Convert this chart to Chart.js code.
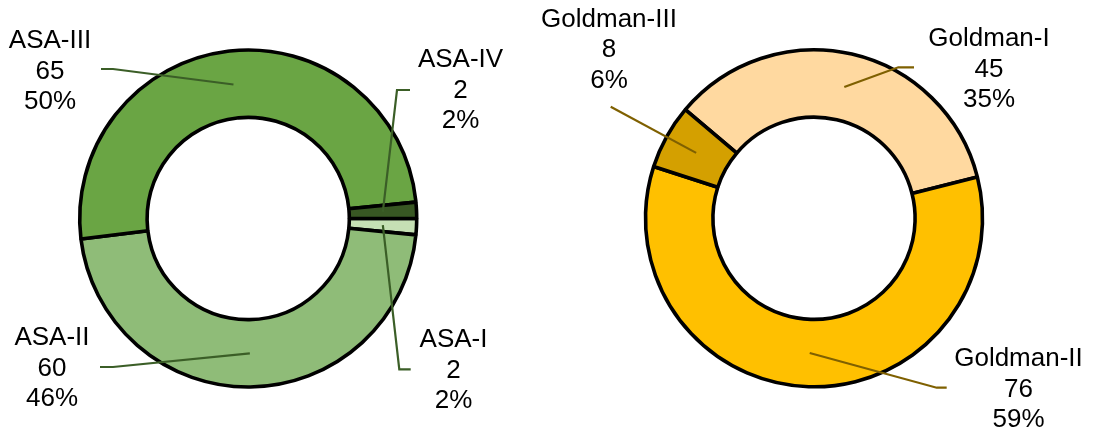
<!DOCTYPE html>
<html>
<head>
<meta charset="utf-8">
<script src="https://cdn.jsdelivr.net/npm/chart.js@4"></script>
<style>
  html, body { margin: 0; padding: 0; background: #fff; }
  #wrap { position: relative; width: 1094px; height: 434px; }
  canvas { position: absolute; top: 0; }
  #asaChart { left: 0; }
  #goldmanChart { left: 520px; }
</style>
</head>
<body>
<div id="wrap">
  <canvas id="asaChart" width="520" height="434"></canvas>
  <canvas id="goldmanChart" width="574" height="434"></canvas>
</div>
<script>
// ASA classes
var asaLabels = ["ASA-I", "ASA-II", "ASA-III", "ASA-IV"];
var asaValues = [2, 60, 65, 2];
var asaPercents = ["2%", "46%", "50%", "2%"];

// Goldman classes
var goldmanLabels = ["Goldman-I", "Goldman-II", "Goldman-III"];
var goldmanValues = [45, 76, 8];
var goldmanPercents = ["35%", "59%", "6%"];

var FONT = '26px "Liberation Sans", Arial, sans-serif';
var LINE_H = 30.6;

// label placement per slice: text centre x, first baseline y, elbow and end of leader
var asaCallouts = [
  { x: 453.5, y: 347, elbow: [399.3, 369.3], end: [410.7, 369.3] },
  { x: 52, y: 345, elbow: [113, 367], end: [100, 367] },
  { x: 50, y: 48, elbow: [113, 69], end: [101, 69] },
  { x: 460.5, y: 67, elbow: [397, 90], end: [410, 90] }
];
var goldmanCallouts = [
  { x: 469, y: 46, elbow: [378.3, 67.3], end: [394, 67.3] },
  { x: 498.5, y: 366, elbow: [416.7, 387.7], end: [426.7, 387.7] },
  { x: 89, y: 26.7, elbow: [90.7, 106.7], end: [90.7, 106.7] }
];

var calloutPlugin = {
  id: "callouts",
  afterDatasetsDraw: function (chart, args, opts) {
    var ctx = chart.ctx;
    var meta = chart.getDatasetMeta(0);
    var ds = chart.data.datasets[0];
    ctx.save();
    meta.data.forEach(function (arc, i) {
      var c = opts.items[i];
      var p = arc.tooltipPosition();
      ctx.strokeStyle = opts.lineColor;
      ctx.lineWidth = 2.2;
      ctx.beginPath();
      ctx.moveTo(p.x, p.y);
      ctx.lineTo(c.elbow[0], c.elbow[1]);
      ctx.lineTo(c.end[0], c.end[1]);
      ctx.stroke();

      ctx.fillStyle = "#000";
      ctx.font = FONT;
      ctx.textAlign = "center";
      ctx.textBaseline = "alphabetic";
      var lines = [chart.data.labels[i], String(ds.data[i]), opts.percents[i]];
      lines.forEach(function (t, k) {
        ctx.fillText(t, c.x, c.y + k * LINE_H);
      });
    });
    ctx.restore();
  }
};

function makeDonut(id, labels, values, colors, rotation, padding, callouts, percents, lineColor) {
  return new Chart(document.getElementById(id), {
    type: "doughnut",
    data: {
      labels: labels,
      datasets: [{
        data: values,
        backgroundColor: colors,
        borderColor: "#000",
        borderWidth: 3.6,
        borderAlign: "center"
      }]
    },
    options: {
      responsive: false,
      animation: false,
      rotation: rotation,
      radius: 168.5,
      cutout: "60%",
      layout: { padding: padding },
      plugins: {
        legend: { display: false },
        tooltip: { enabled: false },
        callouts: { items: callouts, percents: percents, lineColor: lineColor }
      }
    },
    plugins: [calloutPlugin]
  });
}

makeDonut("asaChart", asaLabels, asaValues,
  ["#c5e0b4", "#8fbc78", "#6aa544", "#385723"],
  90, { left: 0, right: 23.6, top: 3, bottom: 0 },
  asaCallouts, asaPercents, "#3b5e27");

makeDonut("goldmanChart", goldmanLabels, goldmanValues,
  ["#ffd9a0", "#ffc000", "#d4a000"],
  -49.8, { left: 20, right: 6, top: 2.6, bottom: 0 },
  goldmanCallouts, goldmanPercents, "#7f6000");
</script>
</body>
</html>
